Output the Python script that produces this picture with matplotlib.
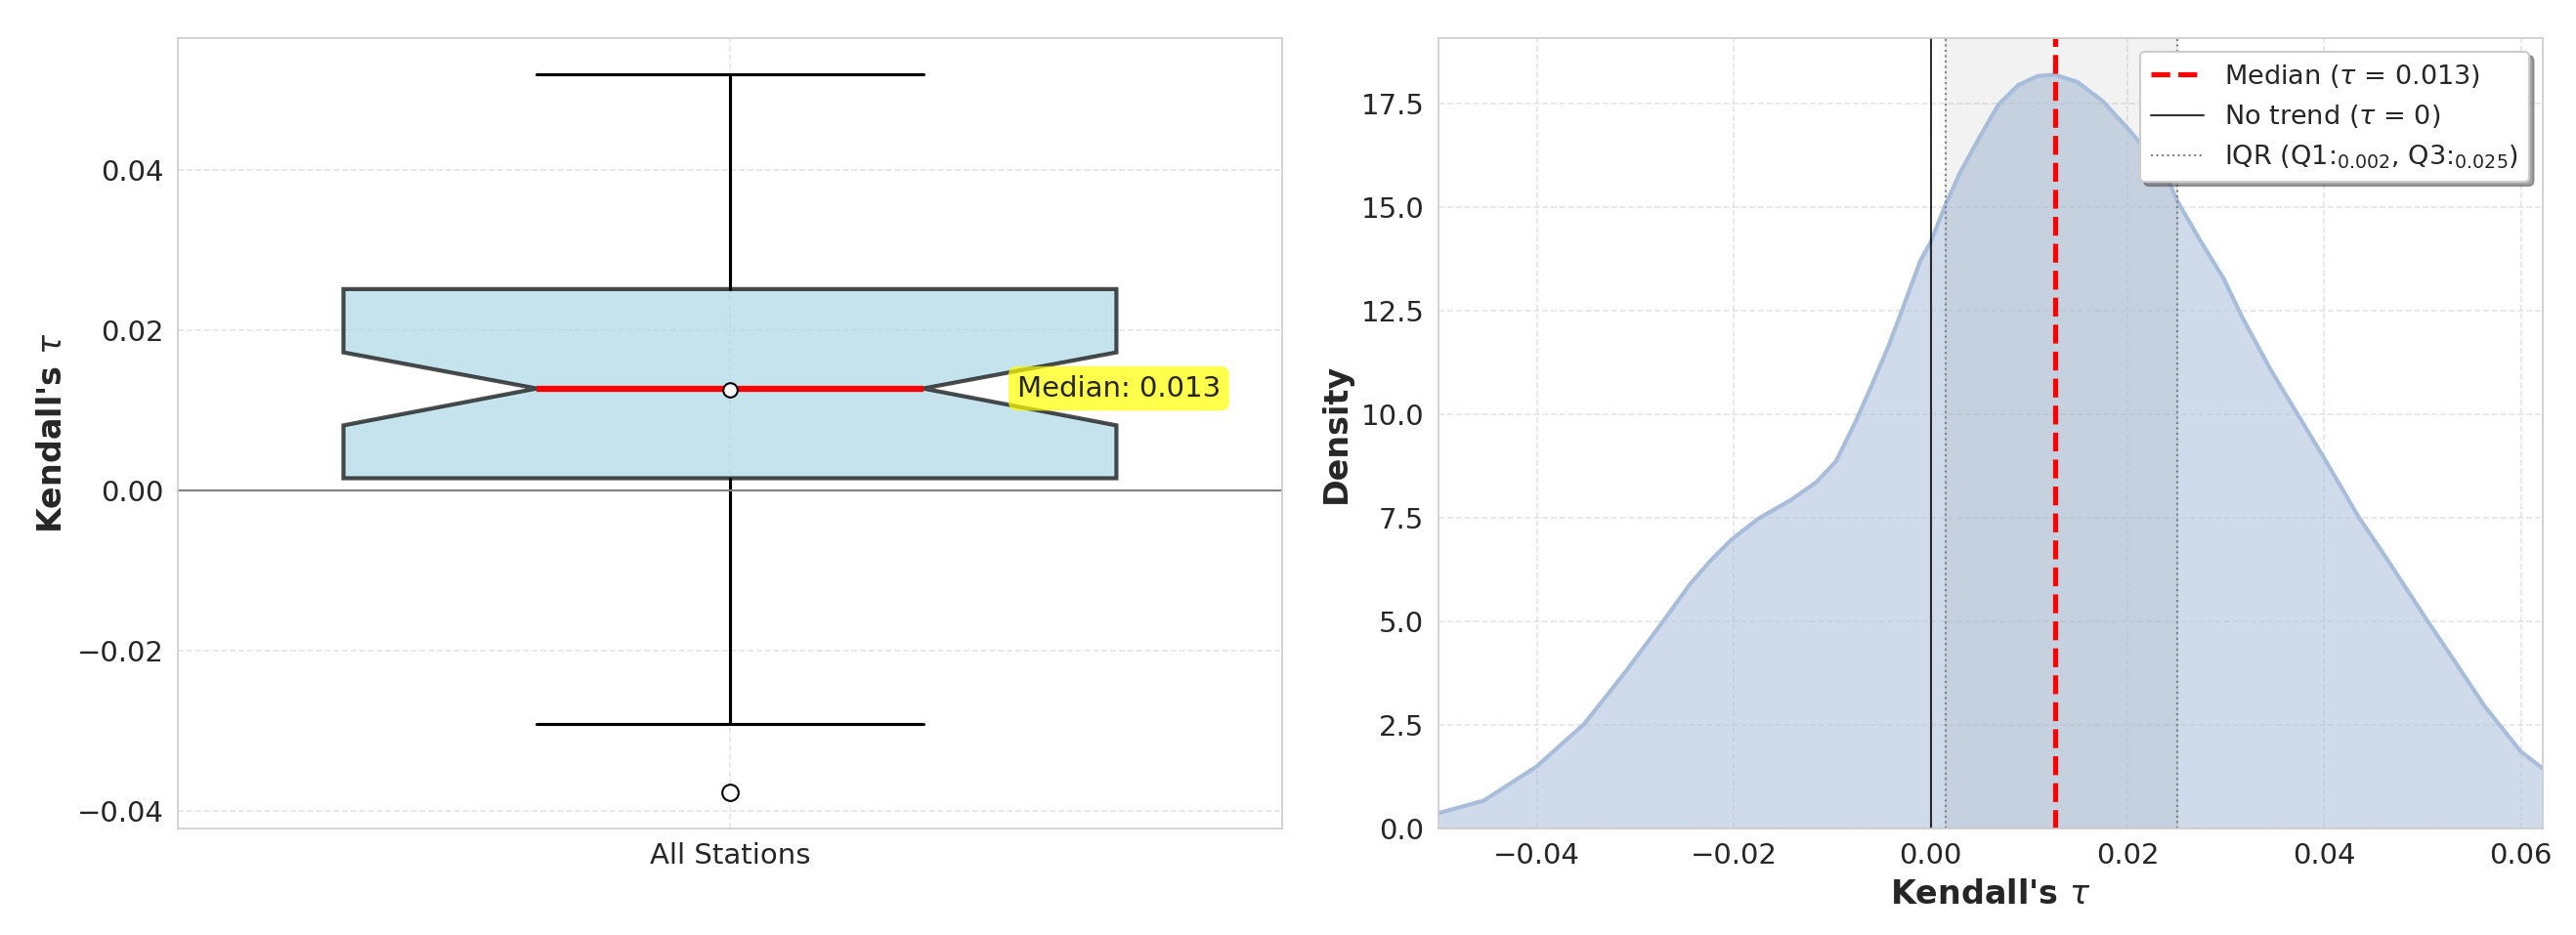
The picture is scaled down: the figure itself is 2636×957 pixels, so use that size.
import matplotlib
matplotlib.use("Agg")
import matplotlib.pyplot as plt
import seaborn as sns
import numpy as np

# box statistics of Kendall's tau
tau_median = 0.0127
tau_mean = 0.0125
tau_q1 = 0.0015
tau_q3 = 0.0251
tau_ci = [0.0081, 0.0172]
tau_whiskers = [-0.0291, 0.0519]
tau_fliers = [-0.0377]
group_label = "All Stations"

# KDE curve
kde_x = [-0.0500, -0.0454, -0.0400, -0.0352, -0.0310, -0.0268, -0.0245,
         -0.0225, -0.0202, -0.0175, -0.0142, -0.0116, -0.0096, -0.0076,
         -0.0060, -0.0043, -0.0027, -0.0010, 0.0000, 0.0015, 0.0030,
         0.0050, 0.0069, 0.0089, 0.0109, 0.0126, 0.0149, 0.0175, 0.0202,
         0.0238, 0.0251, 0.0274, 0.0298, 0.0317, 0.0346, 0.0374, 0.0400,
         0.0435, 0.0462, 0.0503, 0.0530, 0.0563, 0.0600, 0.0622]
kde_y = [0.37, 0.67, 1.50, 2.52, 3.78, 5.12, 5.88,
         6.43, 6.98, 7.48, 7.93, 8.36, 8.87, 9.83,
         10.69, 11.63, 12.64, 13.73, 14.15, 15.05, 15.84,
         16.70, 17.48, 17.95, 18.17, 18.20, 18.03, 17.56, 16.86,
         15.84, 15.14, 14.20, 13.27, 12.33, 11.06, 9.96, 8.94,
         7.52, 6.57, 5.08, 4.13, 2.95, 1.85, 1.45]

sns.set_style("whitegrid")
plt.rcParams['font.family'] = ['DejaVu Sans']

fig, (ax1, ax2) = plt.subplots(1, 2, figsize=(17.58, 6.38), dpi=150)
fig.subplots_adjust(left=0.069, right=0.9867, bottom=0.114, top=0.959, wspace=0.1416)

#### left: notched box plot
stats = [dict(med=tau_median, mean=tau_mean, q1=tau_q1, q3=tau_q3,
              cilo=tau_ci[0], cihi=tau_ci[1],
              whislo=tau_whiskers[0], whishi=tau_whiskers[1],
              fliers=tau_fliers, label=group_label)]
ax1.bxp(stats, shownotches=True, showmeans=True, patch_artist=True, widths=0.7,
        boxprops=dict(facecolor='lightblue', alpha=0.7, edgecolor='black', linewidth=2),
        medianprops=dict(color='red', linewidth=3),
        whiskerprops=dict(color='black', linewidth=1.5),
        capprops=dict(color='black', linewidth=1.5),
        meanprops=dict(marker='o', markerfacecolor='white', markeredgecolor='black', markersize=7),
        flierprops=dict(marker='o', markerfacecolor='white', markeredgecolor='black', markersize=8))
ax1.axhline(0, color='gray', linewidth=1)
ax1.text(1.26, tau_median, f"Median: {tau_median:.3f}", fontsize=14, va='center', ha='left',
         bbox=dict(boxstyle='round,pad=0.3', facecolor='yellow', edgecolor='none', alpha=0.7))
ax1.set_ylabel("Kendall's $\\tau$", fontsize=16, fontweight='bold')
ax1.tick_params(labelsize=14)
ax1.grid(True, linestyle='--', alpha=0.5)

#### right: density
ax2.fill_between(kde_x, kde_y, color='lightsteelblue', alpha=0.6, linewidth=0)
ax2.plot(kde_x, kde_y, color='#a7bdda', linewidth=2)
ax2.axvspan(tau_q1, tau_q3, color='gray', alpha=0.1)
ax2.axvline(tau_median, color='red', linestyle='--', linewidth=2.5,
            label=f"Median ($\\tau$ = {tau_median:.3f})")
ax2.axvline(0, color='black', linewidth=1, alpha=0.8, label="No trend ($\\tau$ = 0)")
ax2.axvline(tau_q1, color='gray', linestyle=':', linewidth=1,
            label=f"IQR (Q1:$_{{{tau_q1:.3f}}}$, Q3:$_{{{tau_q3:.3f}}}$)")
ax2.axvline(tau_q3, color='gray', linestyle=':', linewidth=1)
ax2.set_xlim(-0.05, 0.0622)
ax2.set_ylim(0, 19.08)
ax2.set_xlabel("Kendall's $\\tau$", fontsize=16, fontweight='bold')
ax2.set_ylabel("Density", fontsize=16, fontweight='bold')
ax2.tick_params(labelsize=14)
ax2.grid(True, linestyle='--', alpha=0.5)
ax2.legend(loc='upper right', fontsize=13, shadow=True, frameon=True, framealpha=1)

plt.savefig("out.png", dpi=150)
